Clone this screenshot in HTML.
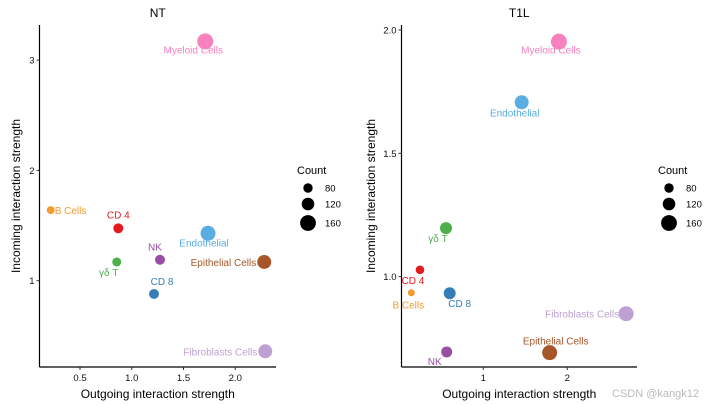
<!DOCTYPE html>
<html><head><meta charset="utf-8"><style>
body{margin:0;background:#fff;}
svg{display:block;font-family:"Liberation Sans",Arial,sans-serif;}
</style></head><body>
<svg id="c" width="720" height="405"></svg>
<script>
const cells=["Myeloid Cells","B Cells","CD 4","Endothelial","γδ T","NK","Epithelial Cells","CD 8","Fibroblasts Cells"];
const colors=["#F781BF","#F39B2F","#E41A1C","#5AADE2","#4DAF4A","#984EA3","#A65628","#377EB8","#BFA0D2"];
const ntOut=[1.71,0.217,0.87,1.737,0.855,1.273,2.28,1.215,2.29];
const ntIn=[3.17,1.64,1.475,1.43,1.17,1.19,1.17,0.88,0.36];
const ntCount=[162,62,87,150,75,87,137,87,137];
const tOut=[1.90,0.143,0.246,1.457,0.556,0.564,1.79,0.60,2.70];
const tIn=[1.953,0.935,1.028,1.707,1.197,0.695,0.692,0.933,0.85];
const tCount=[162,50,70,137,112,100,150,112,150];
const ntXTicks=[0.5,1.0,1.5,2.0], ntYTicks=[1,2,3];
const tXTicks=[1,2], tYTicks=[1.0,1.5,2.0];
const legendCounts=[80,120,160];
const NS="http://www.w3.org/2000/svg";
const svg=document.getElementById('c');
function el(t,a,txt){const e=document.createElementNS(NS,t);for(const k in a)e.setAttribute(k,a[k]);if(txt!=null)e.textContent=txt;svg.appendChild(e);return e;}
function rad(c){return 1.5+c*0.04;}
const ntLab=[[-12,12,"middle"],[4,4,"start"],[0,-10,"middle"],[-4,13,"middle"],[-8,14,"middle"],[-12,-9,"start"],[-8,4,"end"],[8,-9,"middle"],[-8,4,"end"]];
const tLab=[[-8,12,"middle"],[-3,16,"middle"],[-7,14,"middle"],[-7,14,"middle"],[-8,14,"middle"],[-12,13,"middle"],[6,-8,"middle"],[10,14,"middle"],[-7,4,"end"]];
function panel(o){
  const L=o.left,B=367,T=25,R=o.right;
  const X=v=>o.x0+v*o.xs, Y=v=>o.y0-v*o.ys;
  let e=el('text',{x:(L+R)/2,y:17,'text-anchor':'middle','font-size':12,fill:'#000'},o.title);
  
  e=el('line',{x1:L,y1:T,x2:L,y2:B,stroke:'#000','stroke-width':1.2});
  
  e=el('line',{x1:L,y1:B,x2:R,y2:B,stroke:'#000','stroke-width':1.2});
  
  o.xt.forEach(v=>{el('line',{x1:X(v),y1:B,x2:X(v),y2:B+3,stroke:'#333'});
    e=el('text',{x:X(v),y:B+14,'text-anchor':'middle','font-size':9.5,fill:'#111'},o.xf(v));
    });
  o.yt.forEach(v=>{el('line',{x1:L-3,y1:Y(v),x2:L,y2:Y(v),stroke:'#333'});
    e=el('text',{x:L-5,y:Y(v)+3.5,'text-anchor':'end','font-size':9.5,fill:'#111'},o.yf(v));
    });
  e=el('text',{x:(L+R)/2,y:398,'text-anchor':'middle','font-size':12,fill:'#000'},'Outgoing interaction strength');
  
  e=el('text',{x:0,y:0,'text-anchor':'middle','font-size':12,fill:'#000',transform:`translate(${o.ytx},196) rotate(-90)`},'Incoming interaction strength');
  
  cells.forEach((c,i)=>{
    const cx=X(o.xv[i]),cy=Y(o.yv[i]);
    e=el('circle',{cx:cx,cy:cy,r:rad(o.cnt[i]),fill:colors[i]});
    
    const lb=o.lab[i];
    e=el('text',{x:cx+lb[0],y:cy+lb[1],'text-anchor':lb[2],'font-size':10,fill:colors[i]},c);
    
  });
  e=el('text',{x:o.lx-11,y:174,'font-size':11,fill:'#000'},'Count');
  
  const ly=[188,204,223];
  legendCounts.forEach((c,i)=>{
    e=el('circle',{cx:o.lx,cy:ly[i],r:rad(c),fill:'#000'});
    
    e=el('text',{x:o.lx+17,y:ly[i]+3.5,'font-size':9.5,fill:'#000'},String(c));
    
  });
}
panel({id:'nt',title:'NT',left:39.5,right:276,x0:28.25,xs:103.5,y0:391,ys:110.3,xt:ntXTicks,yt:ntYTicks,xf:v=>v.toFixed(1),yf:v=>String(v),xv:ntOut,yv:ntIn,cnt:ntCount,lab:ntLab,lx:308,ytx:20});
panel({id:'t1l',title:'T1L',left:401.5,right:637,x0:399.3,xs:84,y0:523.4,ys:246.7,xt:tXTicks,yt:tYTicks,xf:v=>String(v),yf:v=>v.toFixed(1),xv:tOut,yv:tIn,cnt:tCount,lab:tLab,lx:669,ytx:375});
let w=el('text',{x:612,y:397,'font-size':11,fill:'#bbb'},'CSDN @kangk12');

</script>
</body></html>
